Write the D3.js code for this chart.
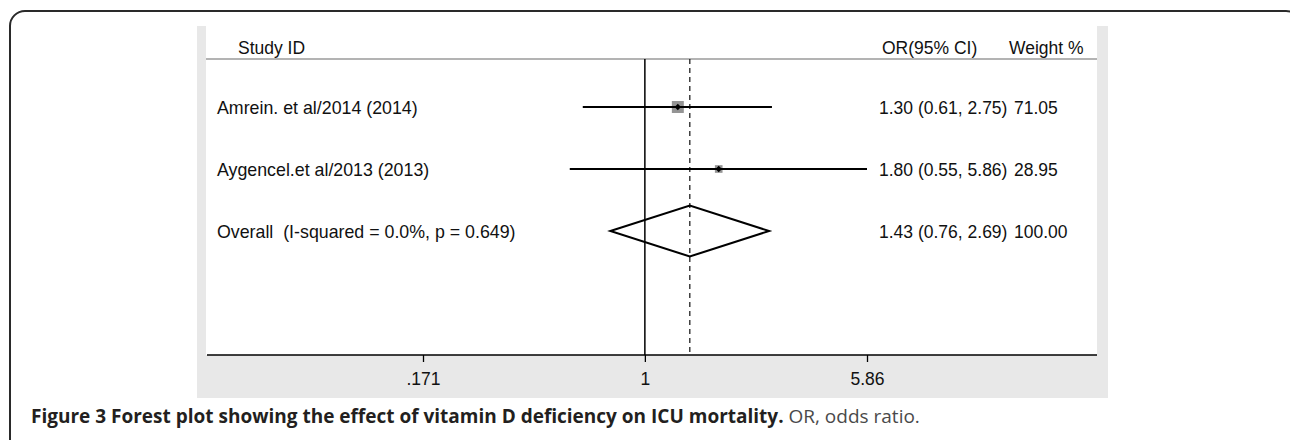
<!DOCTYPE html>
<html>
<head>
<meta charset="utf-8">
<script src="https://cdn.jsdelivr.net/npm/d3@7"></script>
<style>
  html, body { margin: 0; padding: 0; background: #fff; }
  svg { display: block; }
  text { white-space: pre; }
</style>
</head>
<body>
<svg id="chart" width="1290" height="440"></svg>
<script>
// ---- data ----
const studyLabels = ["Amrein. et al/2014 (2014)", "Aygencel.et al/2013 (2013)"];
const studyOR     = [1.30, 1.80];
const studyLower  = [0.61, 0.55];
const studyUpper  = [2.75, 5.86];
const studyWeight = [71.05, 28.95];
const studyCIText = ["1.30 (0.61, 2.75)", "1.80 (0.55, 5.86)"];
const studyWText  = ["71.05", "28.95"];

const overallLabel  = "Overall  (I-squared = 0.0%, p = 0.649)";
const overallOR     = 1.43;
const overallLower  = 0.76;
const overallUpper  = 2.69;
const overallCIText = "1.43 (0.76, 2.69)";
const overallWText  = "100.00";

const tickValues = [0.171, 1, 5.86];
const tickLabels = [".171", "1", "5.86"];

const headers = ["Study ID", "OR(95% CI)", "Weight %"];
const captionBold = "Figure 3 Forest plot showing the effect of vitamin D deficiency on ICU mortality.";
const captionRest = "OR, odds ratio.";

// ---- drawing ----
const svg = d3.select("#chart");
const font = "'Liberation Sans', Arial, sans-serif";
const fs = 17.8;
const fsNum = 17.5;

// frame
svg.append("path")
  .attr("d", "M10,440 L10,26 A15,15 0 0 1 25,11 L1286,11 A15,15 0 0 1 1301,26")
  .attr("fill", "none").attr("stroke", "#2a2a2a").attr("stroke-width", 2);

// plot panel
const panel = {x0: 197, x1: 1108, y0: 26, y1: 398};
const inner = {x0: 206, x1: 1097, y0: 26, y1: 355};
svg.append("rect").attr("x", panel.x0).attr("y", panel.y0)
  .attr("width", panel.x1 - panel.x0).attr("height", panel.y1 - panel.y0)
  .attr("fill", "#e8e8e8");
svg.append("rect").attr("x", inner.x0).attr("y", inner.y0)
  .attr("width", inner.x1 - inner.x0).attr("height", inner.y1 - inner.y0)
  .attr("fill", "#ffffff");

// scales
const x = d3.scaleLog().domain([0.171, 5.86]).range([423, 867]);
const rowKeys = [0, 1, 2];
const y = d3.scalePoint().domain(rowKeys).range([107, 231]);
const boxSize = d3.scaleSqrt().domain([0, 100]).range([0, 14.2]);

const headerY = 54, headerLineY = 59;

// header
svg.append("line").attr("x1", inner.x0).attr("x2", inner.x1)
  .attr("y1", headerLineY).attr("y2", headerLineY)
  .attr("stroke", "#9a9a9a").attr("stroke-width", 1.5);
const headerX = [238, 882, 1009];
svg.selectAll("text.hdr").data(headers).join("text").attr("class", "hdr")
  .attr("x", (d, i) => headerX[i]).attr("y", headerY)
  .attr("font-family", font).attr("font-size", fsNum).attr("fill", "#111")
  .text(d => d);

// null line and overall dashed line
svg.append("line").attr("x1", x(1)).attr("x2", x(1))
  .attr("y1", headerLineY).attr("y2", inner.y1)
  .attr("stroke", "#000").attr("stroke-width", 1.5);
svg.append("line").attr("x1", x(overallOR)).attr("x2", x(overallOR))
  .attr("y1", headerLineY).attr("y2", inner.y1)
  .attr("stroke", "#222").attr("stroke-width", 1.3)
  .attr("stroke-dasharray", "5,4");

// study rows
const studies = studyLabels.map((l, i) => ({
  label: l, or: studyOR[i], lo: studyLower[i], hi: studyUpper[i],
  w: studyWeight[i], ci: studyCIText[i], wt: studyWText[i], row: i
}));

const g = svg.append("g");
// weight boxes
g.selectAll("rect.box").data(studies).join("rect").attr("class", "box")
  .attr("x", d => x(d.or) - boxSize(d.w) / 2)
  .attr("y", d => y(d.row) - boxSize(d.w) / 2)
  .attr("width", d => boxSize(d.w)).attr("height", d => boxSize(d.w))
  .attr("fill", "#949494");
// CI lines
g.selectAll("line.ci").data(studies).join("line").attr("class", "ci")
  .attr("x1", d => x(d.lo)).attr("x2", d => x(d.hi))
  .attr("y1", d => y(d.row)).attr("y2", d => y(d.row))
  .attr("stroke", "#000").attr("stroke-width", 2);
// point estimate diamonds
g.selectAll("path.pt").data(studies).join("path").attr("class", "pt")
  .attr("d", d => {
    const cx = x(d.or), cy = y(d.row), r = 3.2;
    return `M${cx - r},${cy} L${cx},${cy - r} L${cx + r},${cy} L${cx},${cy + r} Z`;
  })
  .attr("fill", "#000");

// overall diamond
const oy = y(2), dh = 25.5;
svg.append("path")
  .attr("d", `M${x(overallLower)},${oy} L${x(overallOR)},${oy - dh} L${x(overallUpper)},${oy} L${x(overallOR)},${oy + dh} Z`)
  .attr("fill", "none").attr("stroke", "#000").attr("stroke-width", 2)
  .attr("stroke-linejoin", "miter");

// row texts
const rows = studies.map(d => ({label: d.label, ci: d.ci, wt: d.wt, row: d.row}))
  .concat([{label: overallLabel, ci: overallCIText, wt: overallWText, row: 2}]);
const textOff = 6.5;
svg.selectAll("text.lbl").data(rows).join("text").attr("class", "lbl")
  .attr("x", 217).attr("y", d => y(d.row) + textOff)
  .attr("font-family", font).attr("font-size", fs).attr("fill", "#111")
  .text(d => d.label);
svg.selectAll("text.ci").data(rows).join("text").attr("class", "ci")
  .attr("x", 879).attr("y", d => y(d.row) + textOff)
  .attr("font-family", font).attr("font-size", fsNum).attr("fill", "#111")
  .text(d => d.ci);
svg.selectAll("text.wt").data(rows).join("text").attr("class", "wt")
  .attr("x", 1014).attr("y", d => y(d.row) + textOff)
  .attr("font-family", font).attr("font-size", fsNum).attr("fill", "#111")
  .text(d => d.wt);

// x axis
const axis = d3.axisBottom(x).tickValues(tickValues)
  .tickFormat((d, i) => tickLabels[i]).tickSize(7).tickPadding(11);
const ax = svg.append("g").attr("transform", `translate(0,${inner.y1})`).call(axis);
ax.select(".domain").remove();
ax.append("line").attr("x1", 207).attr("x2", inner.x1).attr("y1", 0).attr("y2", 0)
  .attr("stroke", "#000").attr("stroke-width", 1.5);
ax.selectAll(".tick line").attr("stroke", "#000").attr("stroke-width", 1.3);
ax.selectAll(".tick text").attr("font-family", font).attr("font-size", fsNum).attr("fill", "#111");

// caption
const cap = svg.append("text").attr("x", 31).attr("y", 423)
  .attr("font-family", "'Open Sans', sans-serif").attr("font-size", 19);
cap.append("tspan").attr("font-weight", "bold").attr("fill", "#231f20").text(captionBold);
cap.append("tspan").attr("font-weight", "normal").attr("fill", "#4a4a4a").text(" " + captionRest);
</script>
</body>
</html>
